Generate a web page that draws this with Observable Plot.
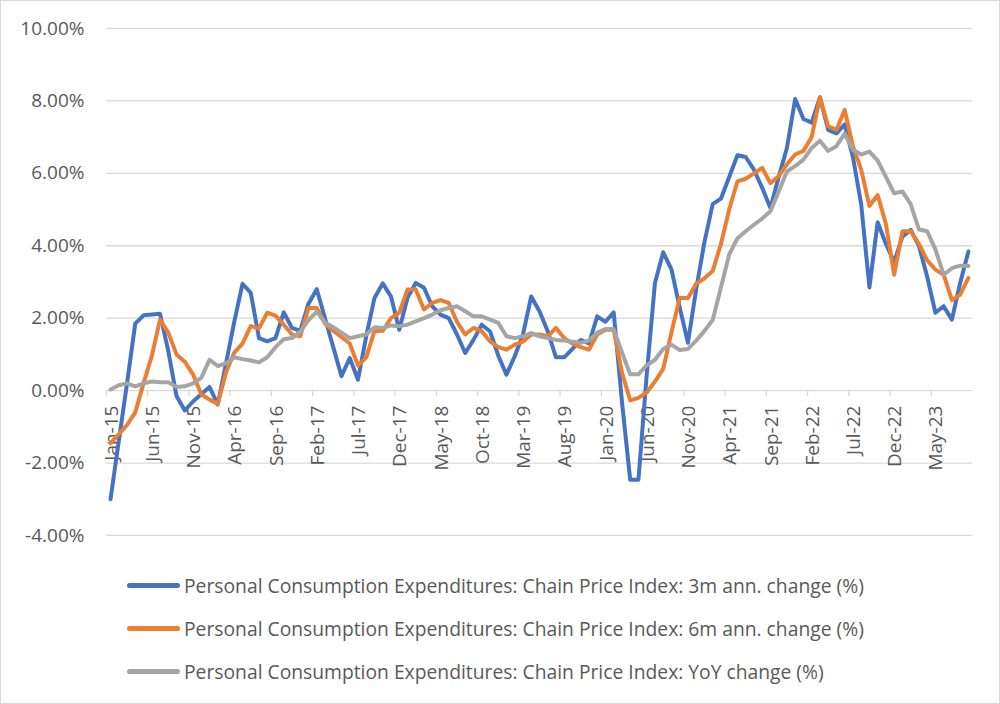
<!DOCTYPE html>
<html>
<head>
<meta charset="utf-8">
<script src="https://cdn.jsdelivr.net/npm/d3@7"></script>
<script src="https://cdn.jsdelivr.net/npm/@observablehq/plot@0.6"></script>
<style>
  body { margin: 0; background: #fff; }
  #wrap { position: relative; width: 1000px; height: 704px; box-sizing: border-box; border: 1px solid #d9d9d9; overflow: hidden; font-family: "Open Sans", sans-serif; background: #fff; }
  #chart { position: absolute; left: -1px; top: -1px; }
  .item { position: absolute; left: 126px; height: 30px; display: flex; align-items: center; color: #595959; font-size: 19.3px; white-space: nowrap; }
  .sw { width: 53px; height: 5px; border-radius: 3px; margin-right: 4px; }
</style>
</head>
<body>
<div id="wrap">
  <div id="chart"></div>
  <div id="legend"></div>
</div>
<script>
// Month tick labels (every 5th month starting Jan-15)
const tickLabels = ["Jan-15","Jun-15","Nov-15","Apr-16","Sep-16","Feb-17","Jul-17","Dec-17","May-18","Oct-18","Mar-19","Aug-19","Jan-20","Jun-20","Nov-20","Apr-21","Sep-21","Feb-22","Jul-22","Dec-22","May-23"];
const tickEvery = 5;

// Monthly values Jan-15 .. Sep-23 (%)
const chg3m = [
  -3.0, -1.4, 0.2, 1.85, 2.08, 2.1, 2.12, 1.1, -0.15, -0.55, -0.3, -0.1,
  0.1, -0.38, 0.75, 1.9, 2.95, 2.7, 1.45, 1.36, 1.45, 2.16, 1.73, 1.65,
  2.4, 2.8, 2.0, 1.2, 0.4, 0.9, 0.3, 1.5, 2.56, 2.96, 2.6, 1.68,
  2.56, 2.97, 2.84, 2.33, 2.1, 2.0, 1.55, 1.04, 1.4, 1.82, 1.64, 0.97,
  0.44, 0.95, 1.55, 2.6, 2.19, 1.64, 0.92, 0.92, 1.15, 1.4, 1.3, 2.05,
  1.9, 2.16, -0.3, -2.46, -2.46, 0.43, 2.97, 3.82, 3.35, 2.3, 1.32, 2.8,
  4.1, 5.15, 5.3, 5.9, 6.5, 6.45, 6.1, 5.6, 5.04, 5.9, 6.7, 8.05,
  7.5, 7.4, 8.1, 7.2, 7.1, 7.35, 6.45, 5.15, 2.85, 4.65, 4.05, 3.55,
  4.25, 4.44, 4.0, 3.15, 2.15, 2.33, 1.96, 2.97, 3.84
];
const chg6m = [
  -1.45, -1.2, -0.95, -0.6, 0.2, 0.95, 1.96, 1.6, 1.0, 0.8, 0.45, -0.1,
  -0.25, -0.36, 0.5, 1.05, 1.3, 1.78, 1.72, 2.15, 2.07, 1.82, 1.55, 1.5,
  2.28, 2.28, 1.85, 1.65, 1.48, 1.3, 0.69, 0.92, 1.64, 1.65, 2.0, 2.15,
  2.79, 2.79, 2.24, 2.42, 2.5, 2.42, 1.9, 1.55, 1.73, 1.64, 1.36, 1.2,
  1.13, 1.27, 1.35, 1.55, 1.55, 1.5, 1.73, 1.45, 1.3, 1.2, 1.13, 1.55,
  1.68, 1.68, 0.5, -0.27, -0.2, -0.05, 0.25, 0.6, 1.6, 2.56, 2.56, 2.95,
  3.1, 3.3, 4.05, 5.0, 5.78, 5.85, 6.0, 6.15, 5.73, 5.92, 6.25, 6.52,
  6.62, 7.0, 8.1, 7.3, 7.2, 7.75, 6.75, 6.1, 5.1, 5.4, 4.6, 3.2,
  4.4, 4.4, 4.05, 3.6, 3.34, 3.2, 2.5, 2.65, 3.11
];
const yoy = [
  0.03, 0.15, 0.2, 0.12, 0.2, 0.25, 0.23, 0.23, 0.1, 0.12, 0.2, 0.35,
  0.85, 0.68, 0.75, 0.92, 0.87, 0.83, 0.78, 0.92, 1.2, 1.42, 1.45, 1.63,
  1.95, 2.18, 1.88, 1.75, 1.6, 1.45, 1.5, 1.55, 1.75, 1.73, 1.8, 1.78,
  1.82, 1.91, 2.0, 2.1, 2.22, 2.28, 2.33, 2.19, 2.05, 2.05, 1.96, 1.87,
  1.5, 1.45, 1.5, 1.59, 1.5, 1.45, 1.4, 1.38, 1.35, 1.32, 1.38, 1.6,
  1.7, 1.7, 1.05, 0.45, 0.45, 0.7, 0.85, 1.15, 1.27, 1.12, 1.15, 1.38,
  1.65, 1.95, 2.85, 3.76, 4.2, 4.4, 4.58, 4.75, 4.95, 5.5, 6.05, 6.2,
  6.38, 6.7, 6.9, 6.62, 6.75, 7.1, 6.65, 6.52, 6.6, 6.35, 5.9, 5.45,
  5.5, 5.15, 4.45, 4.4, 3.9, 3.2, 3.38, 3.45, 3.44
];

const seriesNames = [
  "Personal Consumption Expenditures: Chain Price Index: 3m ann. change (%)",
  "Personal Consumption Expenditures: Chain Price Index: 6m ann. change (%)",
  "Personal Consumption Expenditures: Chain Price Index: YoY change (%)"
];
const seriesColors = ["#4472C4", "#ED7D31", "#A5A5A5"];
const yTicks = [-4, -2, 0, 2, 4, 6, 8, 10];

const allSeries = [chg3m, chg6m, yoy];
const rows = [];
allSeries.forEach((arr, s) => arr.forEach((v, i) => rows.push({i, v, s: seriesNames[s]})));
const n = chg3m.length;
const tickData = tickLabels.map((label, k) => ({i: k * tickEvery, label}));

const chart = Plot.plot({
  width: 1000,
  height: 560,
  marginLeft: 106,
  marginRight: 27,
  marginTop: 28,
  marginBottom: 24.5,
  x: {domain: [-0.5, n - 0.5], axis: null},
  y: {domain: [-4, 10], ticks: yTicks, tickFormat: d => d.toFixed(2) + "%", tickSize: 0, tickPadding: 22, label: null},
  color: {domain: seriesNames, range: seriesColors},
  style: {fontFamily: "Open Sans", fontSize: "19px", color: "#595959", background: "white", overflow: "visible"},
  marks: [
    Plot.ruleY(yTicks, {stroke: "#d9d9d9", strokeWidth: 1.3}),
    Plot.ruleX(tickData, {x: d => d.i - 0.5, y1: 0, y2: 0, insetBottom: -6, stroke: "#d9d9d9", strokeWidth: 1.3}),
    Plot.text(tickData, {x: "i", y: 0, text: "label", rotate: -90, textAnchor: "end", lineAnchor: "middle", dy: 15, dx: 1, fill: "#595959", fontSize: 19}),
    Plot.line(rows, {x: "i", y: "v", z: "s", stroke: "s", strokeWidth: 4, strokeLinejoin: "round", strokeLinecap: "round"})
  ]
});
document.getElementById("chart").appendChild(chart);

const legend = document.getElementById("legend");
const rowCenters = [585, 628, 671];
seriesNames.forEach((name, k) => {
  const item = document.createElement("div");
  item.className = "item";
  item.style.top = (rowCenters[k] - 1 - 15) + "px";
  const sw = document.createElement("div");
  sw.className = "sw";
  sw.style.background = seriesColors[k];
  const t = document.createElement("span");
  t.textContent = name;
  item.appendChild(sw);
  item.appendChild(t);
  legend.appendChild(item);
});
</script>
</body>
</html>
